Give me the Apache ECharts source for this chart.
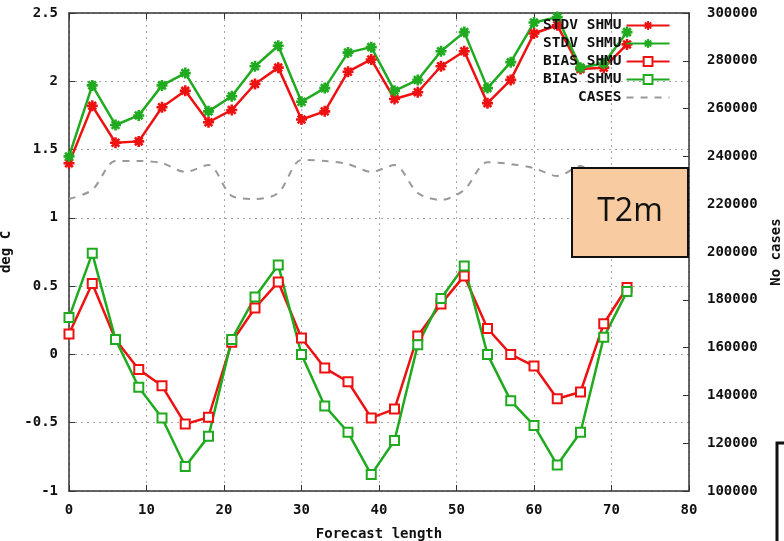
<!DOCTYPE html>
<html>
<head>
<meta charset="utf-8">
<script src="https://cdn.jsdelivr.net/npm/echarts@6/dist/echarts.min.js"></script>
<style>html,body{margin:0;padding:0;background:#fff}#c{width:784px;height:541px}</style>
</head>
<body>
<div id="c"></div>
<script>
// forecast length (h)
const hours=[0,3,6,9,12,15,18,21,24,27,30,33,36,39,42,45,48,51,54,57,60,63,66,69,72];
const stdvRed=[1.40,1.82,1.55,1.56,1.81,1.93,1.70,1.79,1.98,2.10,1.72,1.78,2.07,2.16,1.87,1.92,2.11,2.22,1.84,2.01,2.35,2.41,2.09,2.10,2.27];
const stdvGreen=[1.45,1.97,1.68,1.75,1.97,2.06,1.78,1.89,2.11,2.26,1.85,1.95,2.21,2.25,1.93,2.01,2.22,2.36,1.95,2.14,2.43,2.47,2.10,2.13,2.36];
const biasRed=[0.15,0.52,0.11,-0.11,-0.23,-0.51,-0.46,0.09,0.34,0.53,0.12,-0.10,-0.20,-0.465,-0.40,0.135,0.37,0.575,0.19,0.0,-0.085,-0.325,-0.275,0.225,0.49];
const biasGreen=[0.27,0.74,0.11,-0.24,-0.465,-0.82,-0.60,0.11,0.42,0.655,0.0,-0.377,-0.57,-0.88,-0.63,0.07,0.41,0.648,0.0,-0.34,-0.52,-0.81,-0.57,0.125,0.46];
const cases=[222200,226000,238100,238100,237200,233500,236400,223500,222200,224700,238500,238100,236800,233500,236400,224700,221800,226000,237600,236800,235100,231800,236000,224000,222000];
const names=['STDV SHMU','STDV SHMU ','BIAS SHMU','BIAS SHMU ','CASES'];

const RED='#ee1111', GREEN='#1faa1f';
const mono='"DejaVu Sans Mono", monospace';
const pair=(xs,ys)=>xs.map((x,i)=>[x,ys[i]]);
const star='path://M0,5L10,5M5,0L5,10M1.5,1.5L8.5,8.5M8.5,1.5L1.5,8.5';
const lab={fontFamily:mono,fontWeight:'bold',fontSize:14,color:'#111'};
const grid={show:true,lineStyle:{color:'#a8a8a8',type:[2,4],width:1}};
const tick={show:true,inside:true,length:6,lineStyle:{color:'#333'}};
const axl={show:true,onZero:false,lineStyle:{color:'#333',width:1.5}};

function line(name,data,color,sym,size){
  return {name,type:'line',data,symbol:sym,symbolSize:size,
    lineStyle:{color,width:2.5},
    itemStyle:{color,borderColor:color,borderWidth:sym===star?2.6:1.8}};
}

const c=echarts.init(document.getElementById('c'));
c.setOption({
  animation:false,backgroundColor:'#fff',
  grid:{left:69,top:13,right:95,bottom:50,outerBoundsMode:'none'},
  legend:{orient:'vertical',left:538,top:13,itemWidth:43,itemHeight:11,itemGap:3,align:'right',
    data:names,textStyle:Object.assign({},lab,{fontSize:14.5}),
    formatter:n=>n==='CASES'?'    CASES':n.trim()},
  xAxis:[
    {type:'value',min:0,max:80,interval:10,name:'Forecast length',nameLocation:'middle',nameGap:36,
     nameTextStyle:lab,axisLabel:Object.assign({margin:12},lab),
     axisLine:axl,axisTick:tick,splitLine:grid},
    {type:'value',position:'top',min:0,max:80,interval:10,axisLabel:{show:false},
     axisLine:axl,axisTick:tick,splitLine:{show:false}}
  ],
  yAxis:[
    {type:'value',min:-1,max:2.5,interval:0.5,name:'deg C',nameLocation:'middle',nameGap:52,nameRotate:90,
     nameTextStyle:lab,axisLabel:Object.assign({margin:11},lab),
     axisLine:axl,axisTick:tick,splitLine:grid},
    {type:'value',min:100000,max:300000,interval:20000,position:'right',name:'No cases',nameLocation:'middle',nameGap:80,nameRotate:90,
     nameTextStyle:lab,axisLabel:Object.assign({margin:18,formatter:v=>String(v)},lab),
     axisLine:axl,axisTick:tick,splitLine:{show:false}}
  ],
  series:[
    line(names[0],pair(hours,stdvRed),RED,star,11),
    line(names[1],pair(hours,stdvGreen),GREEN,star,11),
    line(names[2],pair(hours,biasRed),RED,'emptyRect',9),
    line(names[3],pair(hours,biasGreen),GREEN,'emptyRect',9),
    {name:names[4],type:'line',yAxisIndex:1,data:pair(hours,cases),symbol:'circle',showSymbol:false,smooth:0.3,z:1,
     lineStyle:{color:'#999',width:2,type:[7,7]},itemStyle:{color:'rgba(0,0,0,0)',borderWidth:0}}
  ],
  graphic:[
    {type:'rect',z:100,shape:{x:572,y:168,width:116,height:89},style:{fill:'#f8cba0',stroke:'#111',lineWidth:2}},
    {type:'text',z:101,x:630,y:212,style:{text:'T2m',fontFamily:'"Open Sans", sans-serif',fontSize:32,fill:'#111',align:'center',verticalAlign:'middle'}},
    {type:'rect',z:100,shape:{x:777,y:443,width:40,height:120},style:{fill:'#fff',stroke:'#111',lineWidth:3}}
  ]
});
</script>
</body>
</html>
